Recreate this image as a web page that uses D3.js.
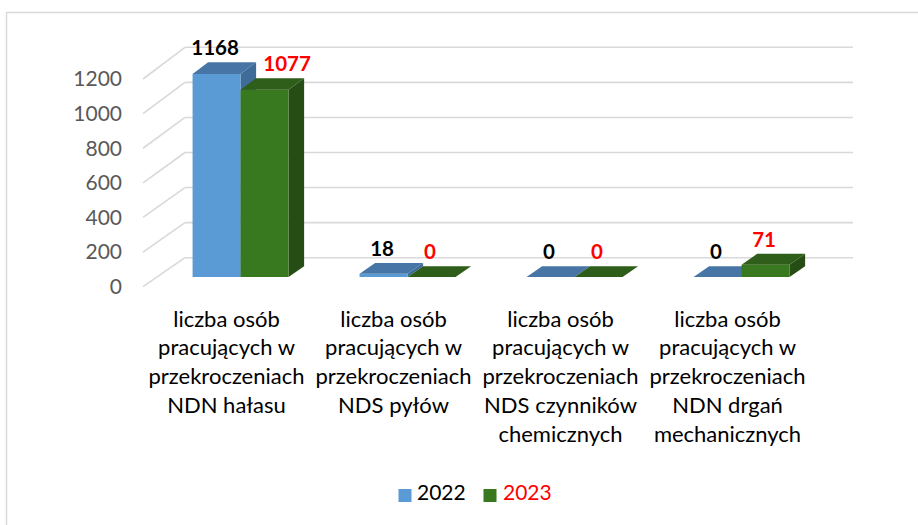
<!DOCTYPE html>
<html><head><meta charset="utf-8">
<script src="https://cdn.jsdelivr.net/npm/d3@7"></script>
<style>html,body{margin:0;padding:0;background:#fff;}svg{display:block;}</style>
</head><body>
<svg id="chart" width="918" height="525"></svg>
<script>
const categories = [
  ["liczba osób","pracujących w","przekroczeniach","NDN hałasu"],
  ["liczba osób","pracujących w","przekroczeniach","NDS pyłów"],
  ["liczba osób","pracujących w","przekroczeniach","NDS czynników","chemicznych"],
  ["liczba osób","pracujących w","przekroczeniach","NDN drgań","mechanicznych"]
];
const seriesNames = ["2022","2023"];
const values2022 = [1168,18,0,0];
const values2023 = [1077,0,0,71];
const yTicks = [0,200,400,600,800,1000,1200];

const colors = {
  "2022": {front:"#5B9BD5", top:"#4776A6", side:"#3E6B97", label:"#000000", legendText:"#000000"},
  "2023": {front:"#38781F", top:"#2E5E19", side:"#264E14", label:"#FF0000", legendText:"#FF0000"}
};
const FONT = "Lato, 'Open Sans', sans-serif";

const svg = d3.select("#chart");
svg.append("rect").attr("x",6.5).attr("y",12.5).attr("width",1000).attr("height",1000)
  .attr("fill","none").attr("stroke","#d9d9d9").attr("stroke-width",1.5);

const backLeft = 185, backRight = 853;
const depth = {dx:-42, dy:29};
const yBack = d3.scaleLinear().domain([0,1200]).range([257.7,47.3]);
const yFront = d3.scaleLinear().domain([0,1200]).range([286.7,79]);
const yAt = (v,t) => yBack(v)*(1-t) + yFront(v)*t;
const tFront = 0.665, tBack = 0.295;

const x0 = d3.scaleBand().domain(d3.range(categories.length)).range([backLeft, backRight]).paddingInner(0).paddingOuter(0);
const x1 = d3.scaleBand().domain(seriesNames).range([0, x0.bandwidth()]).paddingInner(0).paddingOuter(0.7396);

const grid = svg.append("g");
yTicks.forEach(v => {
  grid.append("line").attr("x1",backLeft).attr("x2",backRight).attr("y1",yBack(v)).attr("y2",yBack(v))
    .attr("stroke","#d9d9d9").attr("stroke-width",1.6);
  grid.append("line").attr("x1",backLeft).attr("y1",yBack(v)).attr("x2",backLeft+depth.dx).attr("y2",yFront(v))
    .attr("stroke","#d9d9d9").attr("stroke-width",1.6);
});

svg.append("g").selectAll("text").data(yTicks).join("text")
  .attr("x",122).attr("y",d=>yFront(d)).attr("dy","0.35em")
  .attr("text-anchor","end").attr("font-family",FONT).attr("font-size",21)
  .attr("fill","#595959").text(d=>d3.format("d")(d));

const bars = svg.append("g");
const labelG = svg.append("g");
const seriesVals = {"2022":values2022, "2023":values2023};
categories.forEach((c,i) => {
  const labelInfo = [];
  seriesNames.forEach(s => {
    const v = seriesVals[s][i];
    const xl = x0(i) + x1(s), xr = xl + x1.bandwidth();
    const fx = t => depth.dx*t;
    const col = colors[s];
    const fL = xl + fx(tFront), fR = xr + fx(tFront);
    const bL = xl + fx(tBack), bR = xr + fx(tBack);
    const fyTop = yAt(v,tFront), fyBot = yAt(0,tFront);
    const byTop = yAt(v,tBack), byBot = yAt(0,tBack);
    bars.append("path").attr("d",`M${fR},${fyTop}L${bR},${byTop}L${bR},${byBot}L${fR},${fyBot}Z`).attr("fill",col.side);
    bars.append("path").attr("d",`M${fL},${fyTop}L${fR},${fyTop}L${fR},${fyBot}L${fL},${fyBot}Z`).attr("fill",col.front);
    bars.append("path").attr("d",`M${fL},${fyTop}L${fR},${fyTop}L${bR},${byTop}L${bL},${byTop}Z`).attr("fill",col.top);
    labelInfo.push({s, v, x:(fL+fR)/2 - 1.5, y: byTop - 7, col});
  });
  const a = labelInfo[0], b = labelInfo[1];
  if (Math.abs(a.y - b.y) < 18 && String(a.v).length + String(b.v).length > 4) {
    b.x += x1.bandwidth()/2;
  }
  labelInfo.forEach(L => {
    labelG.append("text").attr("x",L.x).attr("y",L.y).attr("text-anchor","middle")
      .attr("font-family",FONT).attr("font-weight","bold").attr("font-size",20.5)
      .attr("fill",L.col.label).text(L.v);
  });
});

const catG = svg.append("g");
categories.forEach((lines,i) => {
  const cx = x0(i) + x0.bandwidth()/2 + depth.dx;
  const t = catG.append("text").attr("text-anchor","middle").attr("font-family",FONT)
    .attr("font-size",22).attr("fill","#000");
  lines.forEach((ln,k) => {
    t.append("tspan").attr("x",cx).attr("y",326.7 + k*28.7).text(ln);
  });
});

const legend = svg.append("g");
const legendItems = [{s:"2022", sx:398.5, tx:417},{s:"2023", sx:483.5, tx:503}];
legendItems.forEach(L => {
  legend.append("rect").attr("x",L.sx).attr("y",489).attr("width",13).attr("height",13).attr("fill",colors[L.s].front);
  legend.append("text").attr("x",L.tx).attr("y",500).attr("font-family",FONT).attr("font-size",21)
    .attr("fill",colors[L.s].legendText).text(L.s);
});
</script>
</body></html>
